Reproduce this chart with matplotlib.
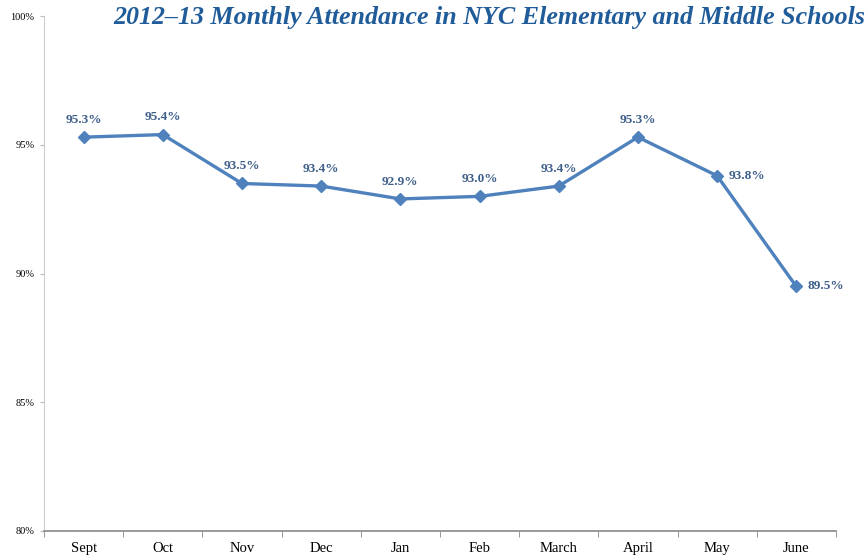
import numpy as np
import matplotlib.pyplot as plt

months = ["Sept", "Oct", "Nov", "Dec", "Jan", "Feb", "March", "April", "May", "June"]
attendance = [95.3, 95.4, 93.5, 93.4, 92.9, 93.0, 93.4, 95.3, 93.8, 89.5]
label_side = ["above"] * 8 + ["right", "right"]
yticks = [80, 85, 90, 95, 100]

line_col = "#4F81BD"
lab_col = "#3E5F8A"
title_col = "#1F5C99"

fig = plt.figure(figsize=(8.68, 5.58), dpi=100)
ax = fig.add_axes([0.0507, 0.0484, 0.9123, 0.9226])

x = np.arange(len(months))
ax.plot(x, attendance, color=line_col, lw=2.4, marker="D", ms=6, mfc=line_col, mec=line_col)

for xi, v, side in zip(x, attendance, label_side):
    txt = f"{v:.1f}%"
    if side == "above":
        ax.annotate(txt, (xi, v), xytext=(0, 8), textcoords="offset points",
                    ha="center", va="bottom", fontsize=9.5, fontweight="bold",
                    color=lab_col, family="Liberation Serif")
    else:
        ax.annotate(txt, (xi, v), xytext=(8, 0), textcoords="offset points",
                    ha="left", va="center", fontsize=9.5, fontweight="bold",
                    color=lab_col, family="Liberation Serif")

ax.set_xlim(-0.5, len(months) - 0.5)
ax.set_ylim(80, 100)
ax.set_yticks(yticks)
ax.set_yticklabels([f"{t}%" for t in yticks], fontsize=7.5, family="Liberation Serif")
ax.set_xticks(x)
ax.set_xticklabels(months, fontsize=10.5, family="Liberation Serif")
ax.set_xticks(np.arange(-0.5, len(months)), minor=True)
ax.tick_params(axis="x", which="major", length=0, pad=8)
ax.tick_params(axis="x", which="minor", length=4, color="#888888", direction="out")
ax.tick_params(axis="y", length=3, color="#BBBBBB", pad=4)

for s in ["top", "right"]:
    ax.spines[s].set_visible(False)
ax.spines["left"].set_color("#CCCCCC")
ax.spines["bottom"].set_color("#888888")
ax.spines["bottom"].set_linewidth(1.2)

fig.text(0.997, 0.968, "2012–13 Monthly Attendance in NYC Elementary and Middle Schools",
         ha="right", va="center", fontsize=18.7, fontweight="bold", fontstyle="italic",
         color=title_col, family="Liberation Serif")

fig.savefig("out.png", dpi=100)
